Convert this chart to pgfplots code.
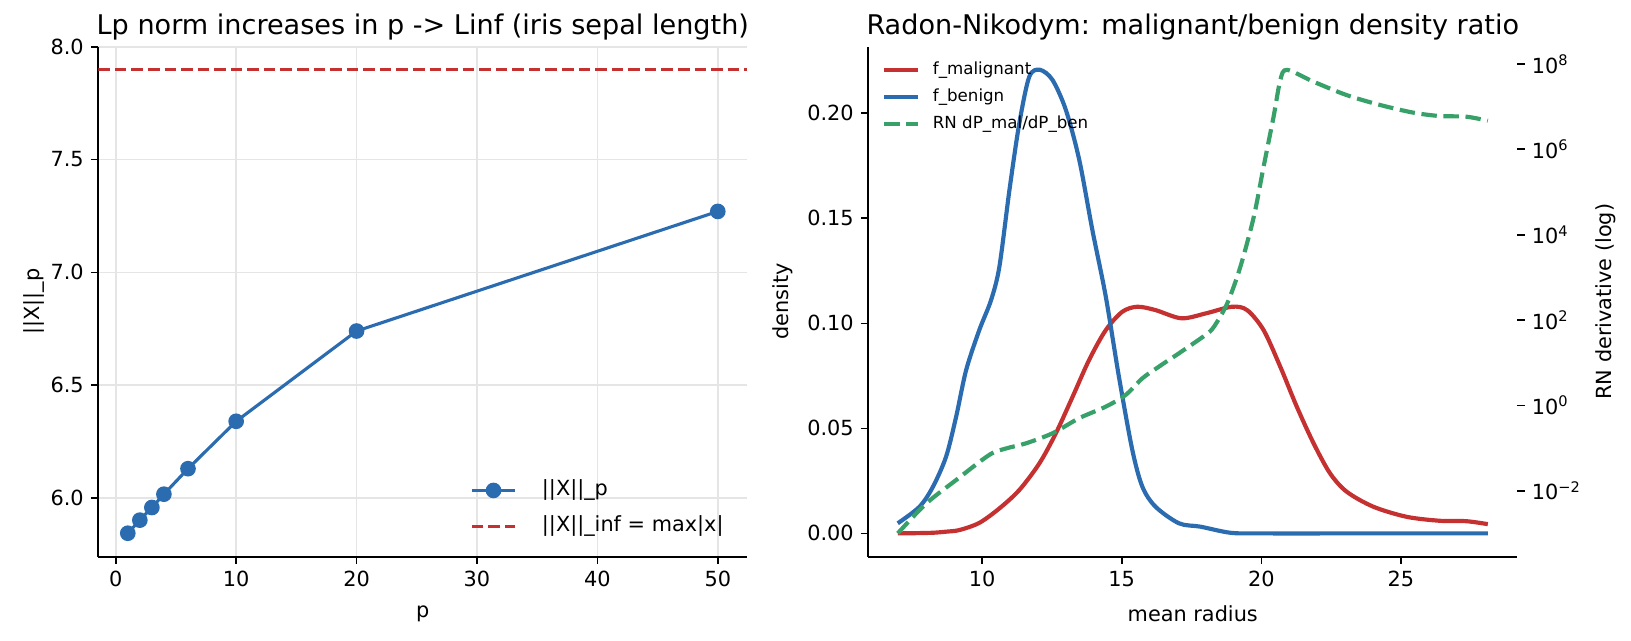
\documentclass[border=0pt]{standalone}
\usepackage{pgfplots}
\pgfplotsset{compat=1.18}
\usepackage{fontspec}
\setmainfont{DejaVu Sans}
\definecolor{cblue}{HTML}{2B6CB0}
\definecolor{cred}{HTML}{C53030}
\definecolor{cgreen}{HTML}{38A169}
\pgfplotsset{
  mpl/.style={
    scale only axis, width=311.52pt, height=244.8pt, anchor=south west,
    tick align=outside, major tick length=3.5pt,
    every tick/.style={black, line width=0.8pt},
    axis line style={line width=0.8pt, -},
    tick label style={font=\fontsize{10}{12}\selectfont},
    label style={font=\fontsize{10}{12}\selectfont},
    title style={font=\fontsize{13}{15}\selectfont, at={(0.5,1)}, anchor=base, yshift=0pt, inner sep=0pt},
    /pgf/number format/assume math mode=true,
    xlabel shift=2pt,
  }
}
\begin{document}
\begin{tikzpicture}
\path[use as bounding box] (0pt,0pt) rectangle (782.88pt,307.68pt);
% ---------- left panel ----------
\begin{axis}[mpl, at={(47.18pt,40.46pt)},
  xmin=-1.45, xmax=52.45, ymin=5.74, ymax=8.0,
  axis x line*=bottom, axis y line*=left,
  xtick={0,10,20,30,40,50}, ytick={6,6.5,7,7.5,8},
  yticklabel style={/pgf/number format/.cd, fixed, fixed zerofill, precision=1},
  grid=major, major grid style={color=black!10, line width=0.8pt},
  xlabel={p}, ylabel={||X||\_p}, ylabel shift=-4pt,
  title={Lp norm increases in p -> Linf (iris sepal length)},
  legend cell align=left,
  legend image code/.code={\draw[mark repeat=2, mark phase=2] plot coordinates {(0pt,0pt) (10.5pt,0pt) (21pt,0pt)};},
  legend style={draw=none, fill=none, font=\fontsize{10}{12}\selectfont,
    at={(0.964,0.038)}, anchor=south east, inner sep=0pt, row sep=7.3pt, column sep=12pt,
    nodes={inner sep=0pt, text height=7.5pt, text depth=2.5pt}},
]
\addplot[cblue, line width=1.5pt, mark=*, mark size=3pt, mark options={fill=cblue, draw=cblue}]
  coordinates {(1,5.844) (2,5.902) (3,5.958) (4,6.017) (6,6.130) (10,6.340) (20,6.740) (50,7.270)};
\addlegendentry{||X||\_p}
\addplot[cred, line width=1.5pt, dash pattern=on 5.55pt off 2.4pt]
  coordinates {(-1.45,7.9) (52.45,7.9)};
\addlegendentry{||X||\_inf = max|x|}
\end{axis}
% ---------- right panel ----------
\begin{axis}[mpl, at={(416.78pt,40.46pt)},
  xmin=5.925, xmax=29.166, ymin=-0.0111, ymax=0.2317,
  axis x line*=bottom, axis y line*=left,
  xtick={10,15,20,25}, ytick={0,0.05,0.10,0.15,0.20},
  yticklabel style={/pgf/number format/.cd, fixed, fixed zerofill, precision=2},
  xlabel={mean radius}, ylabel={density},
  title={Radon-Nikodym: malignant/benign density ratio},
]
\addplot[cred, line width=2pt, smooth] coordinates {
 (6.98,0) (7.6,0.0001) (8.24,0.0003) (8.7,0.0008) (9.19,0.0016) (9.90,0.005) (10.62,0.0119) (11.33,0.0206)
 (12.05,0.0333) (12.64,0.0476) (13.24,0.065) (13.83,0.0825) (14.43,0.0968) (15.02,0.1055)
 (15.56,0.1079) (16.21,0.1063) (17.14,0.1024) (18.03,0.1048) (18.95,0.1079) (19.49,0.1063)
 (20.08,0.0968) (20.68,0.0793) (21.27,0.0603) (21.87,0.0429) (22.46,0.0286) (23.06,0.0198)
 (24.01,0.0127) (25.2,0.0079) (26.39,0.006) (27.34,0.0058) (28.11,0.0044)};
\addplot[cblue, line width=2pt, smooth] coordinates {
 (6.98,0.0048) (7.76,0.0127) (8.24,0.0222) (8.71,0.0365) (9.07,0.0555) (9.43,0.0778) (9.90,0.0968)
 (10.32,0.111) (10.62,0.127) (10.98,0.1635) (11.33,0.195) (11.69,0.2174) (12.07,0.2207)
 (12.52,0.2159) (13.0,0.2016) (13.48,0.1778) (13.95,0.1444) (14.43,0.1127) (14.90,0.0746)
 (15.38,0.0397) (15.74,0.0222) (16.21,0.0127) (17.05,0.0048) (17.82,0.0032) (18.89,0.0003)
 (20.0,0) (24,0) (28.11,0)};
\end{axis}
\begin{axis}[mpl, at={(416.78pt,40.46pt)},
  xmin=5.925, xmax=29.166, ymode=log, ymin=2.838e-4, ymax=2.541e8,
  axis x line=none, axis y line*=right, y axis line style={draw=none},
  ytick={1e-2,1,1e2,1e4,1e6,1e8},
  yticklabels={10\textsuperscript{−2},10\textsuperscript{0},10\textsuperscript{2},10\textsuperscript{4},10\textsuperscript{6},10\textsuperscript{8}},
  yminorticks=false,
  ylabel={RN derivative (log)},
  legend cell align=left,
  legend image code/.code={\draw plot coordinates {(0pt,0pt) (16pt,0pt)};},
  legend style={draw=none, fill=none, font=\fontsize{8}{10}\selectfont,
    at={(0.0206,0.971)}, anchor=north west, inner sep=0pt, row sep=5pt, column sep=6.4pt,
    nodes={inner sep=0pt, text height=6pt, text depth=2pt}},
]
\addlegendimage{cred, line width=2pt}
\addlegendentry{f\_malignant}
\addlegendimage{cblue, line width=2pt}
\addlegendentry{f\_benign}
\addplot[cgreen, line width=2pt, dash pattern=on 7.4pt off 3.2pt, smooth] coordinates {
 (6.98,1.0e-3) (8.0,5.012e-3) (9.07,1.778e-2) (10.26,6.918e-2) (10.86,9.772e-2) (11.57,0.1288)
 (12.52,0.2213) (13.48,0.5012) (14.43,0.9333) (15.14,1.750) (15.74,4.305) (16.33,8.054)
 (17.14,18.20) (18.0,44.67) (18.30,69.18) (18.78,245.5) (19.25,1778) (19.73,26303)
 (20.08,389045) (20.44,5.888e6) (20.68,4.217e7) (20.92,7.278e7) (21.87,3.846e7)
 (23.06,1.862e7) (24.25,1.096e7) (25.44,7.244e6) (26.39,6.026e6) (27.34,5.821e6) (28.11,4.677e6)};
\addlegendentry{RN dP\_mal/dP\_ben}
\end{axis}
\end{tikzpicture}
\end{document}
